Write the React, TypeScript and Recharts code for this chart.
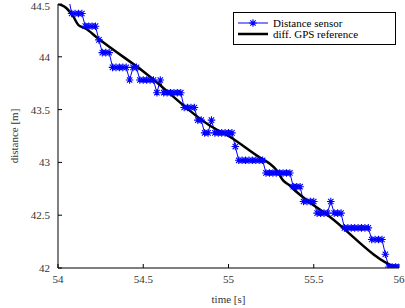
import React from 'react';
import { LineChart, Line, XAxis, YAxis } from 'recharts';

const sensorTime = [
  54.06, 54.08, 54.1, 54.12, 54.14, 54.16, 54.18, 54.2, 54.22, 54.24,
  54.26, 54.28, 54.3, 54.32, 54.34, 54.36, 54.38, 54.4, 54.42, 54.44,
  54.46, 54.48, 54.5, 54.52, 54.54, 54.56, 54.58, 54.6, 54.62, 54.64,
  54.66, 54.68, 54.7, 54.72, 54.74, 54.76, 54.78, 54.8, 54.82, 54.84,
  54.86, 54.88, 54.9, 54.92, 54.94, 54.96, 54.98, 55.0, 55.02, 55.04,
  55.06, 55.08, 55.1, 55.12, 55.14, 55.16, 55.18, 55.2, 55.22, 55.24,
  55.26, 55.28, 55.3, 55.32, 55.34, 55.36, 55.38, 55.4, 55.42, 55.44,
  55.46, 55.48, 55.5, 55.52, 55.54, 55.56, 55.58, 55.6, 55.62, 55.64,
  55.66, 55.68, 55.7, 55.72, 55.74, 55.76, 55.78, 55.8, 55.82, 55.84,
  55.86, 55.88, 55.9, 55.92, 55.94, 55.96, 55.98, 56.0
];
const sensorDist = [
  44.58, 44.41, 44.41, 44.41, 44.41, 44.29, 44.29, 44.29, 44.29, 44.16,
  44.04, 44.04, 44.04, 43.9, 43.9, 43.9, 43.9, 43.9, 43.78, 43.9,
  43.9, 43.78, 43.78, 43.78, 43.78, 43.78, 43.66, 43.78, 43.66, 43.66,
  43.66, 43.66, 43.66, 43.66, 43.52, 43.52, 43.52, 43.52, 43.4, 43.4,
  43.28, 43.28, 43.4, 43.28, 43.28, 43.28, 43.28, 43.28, 43.28, 43.15,
  43.02, 43.02, 43.02, 43.02, 43.02, 43.02, 43.02, 43.02, 42.9, 42.9,
  42.9, 42.9, 42.9, 42.9, 42.9, 42.9, 42.77, 42.77, 42.77, 42.63,
  42.63, 42.63, 42.63, 42.52, 42.52, 42.52, 42.52, 42.63, 42.52, 42.52,
  42.52, 42.38, 42.38, 42.38, 42.38, 42.38, 42.38, 42.38, 42.38, 42.27,
  42.27, 42.27, 42.27, 42.13, 42.01, 42.01, 42.01, 42.01
];

const gpsTime = [
  54.0, 54.02, 54.05, 54.09, 54.12, 54.16, 54.23, 54.51, 54.89, 55.01,
  55.18, 55.24, 55.28, 55.32, 55.36, 55.4, 55.59, 55.98, 56.0
];
const gpsDist = [
  44.5, 44.49, 44.46, 44.38, 44.3, 44.27, 44.18, 43.85, 43.35, 43.24,
  43.05, 42.99, 42.93, 42.83, 42.78, 42.72, 42.49, 42.01, 42.0
];

const xTicks = [54, 54.5, 55, 55.5, 56];
const yTicks = [42, 42.5, 43, 43.5, 44, 44.5];

const sensorData = sensorTime.map((t, i) => ({ t, v: sensorDist[i] }));
const gpsData = gpsTime.map((t, i) => ({ t, v: gpsDist[i] }));

const font = "'Liberation Serif', 'Times New Roman', Times, serif";
const tickStyle = { fill: '#333', fontSize: 11, fontFamily: font };

function Star(props: any) {
  const { cx, cy, index } = props;
  if (cx == null || cy == null) return <g key={index} />;
  const r = 3.8;
  const d = 2.7;
  return (
    <path
      key={index}
      d={`M${cx - r},${cy}H${cx + r}M${cx},${cy - r}V${cy + r}M${cx - d},${cy - d}L${cx + d},${cy + d}M${cx - d},${cy + d}L${cx + d},${cy - d}`}
      stroke="#0000ff"
      strokeWidth={1.1}
      fill="none"
    />
  );
}

function LegendBox() {
  return (
    <div
      style={{
        position: 'absolute',
        left: 233,
        top: 12,
        width: 161,
        height: 31,
        border: '1px solid #000',
        background: '#fff',
        fontFamily: font,
        fontSize: 11,
        color: '#000',
        lineHeight: '10px',
      }}
    >
      <div style={{ display: 'flex', alignItems: 'center', height: 10, marginTop: 5 }}>
        <svg width={36} height={10} style={{ marginLeft: 3 }}>
          <line x1={1} y1={5} x2={31} y2={5} stroke="#0000ff" strokeWidth={1} />
          <Star cx={16} cy={5} index={0} />
        </svg>
        <span>Distance sensor</span>
      </div>
      <div style={{ display: 'flex', alignItems: 'center', height: 10, marginTop: 1 }}>
        <svg width={36} height={10} style={{ marginLeft: 3 }}>
          <line x1={1} y1={5} x2={31} y2={5} stroke="#000" strokeWidth={2.5} />
        </svg>
        <span>diff. GPS reference</span>
      </div>
    </div>
  );
}

export default function App() {
  return (
    <div style={{ position: 'absolute', left: 0, top: 0, width: 405, height: 308, background: '#fff', fontFamily: font }}>
      <LineChart width={405} height={308} margin={{ top: 4, right: 6, bottom: 0, left: 0 }} style={{ fontFamily: font }}>
        <XAxis
          xAxisId="b"
          type="number"
          dataKey="t"
          domain={[54, 56]}
          ticks={xTicks}
          allowDataOverflow
          height={40}
          tickSize={-4}
          tickMargin={11}
          stroke="#000"
          tick={tickStyle}
          tickFormatter={(v) => String(v)}
          label={{ value: 'time [s]', position: 'insideBottom', offset: 5, fill: '#333', fontSize: 11, fontFamily: font }}
        />
        <XAxis
          xAxisId="t"
          orientation="top"
          type="number"
          dataKey="t"
          domain={[54, 56]}
          ticks={xTicks}
          height={0}
          tickSize={-4}
          stroke="#000"
          tick={() => <g />}
        />
        <YAxis
          yAxisId="l"
          type="number"
          domain={[42, 44.5]}
          ticks={yTicks}
          allowDataOverflow
          width={58}
          tickSize={-4}
          tickMargin={12}
          stroke="#000"
          tick={tickStyle}
          tickFormatter={(v) => String(v)}
          label={{ value: 'distance [m]', angle: -90, position: 'center', dx: -15, fill: '#333', fontSize: 11, fontFamily: font }}
        />
        <YAxis
          yAxisId="r"
          orientation="right"
          type="number"
          domain={[42, 44.5]}
          ticks={yTicks}
          width={0}
          tickSize={-4}
          stroke="#000"
          tick={() => <g />}
        />
        <Line
          xAxisId="b"
          yAxisId="l"
          data={sensorData}
          dataKey="v"
          type="linear"
          stroke="#0000ff"
          strokeWidth={1}
          dot={Star}
          activeDot={false}
          isAnimationActive={false}
        />
        <Line
          xAxisId="b"
          yAxisId="l"
          data={gpsData}
          dataKey="v"
          type="monotone"
          stroke="#000"
          strokeWidth={2.5}
          dot={false}
          activeDot={false}
          isAnimationActive={false}
        />
      </LineChart>
      <LegendBox />
    </div>
  );
}
